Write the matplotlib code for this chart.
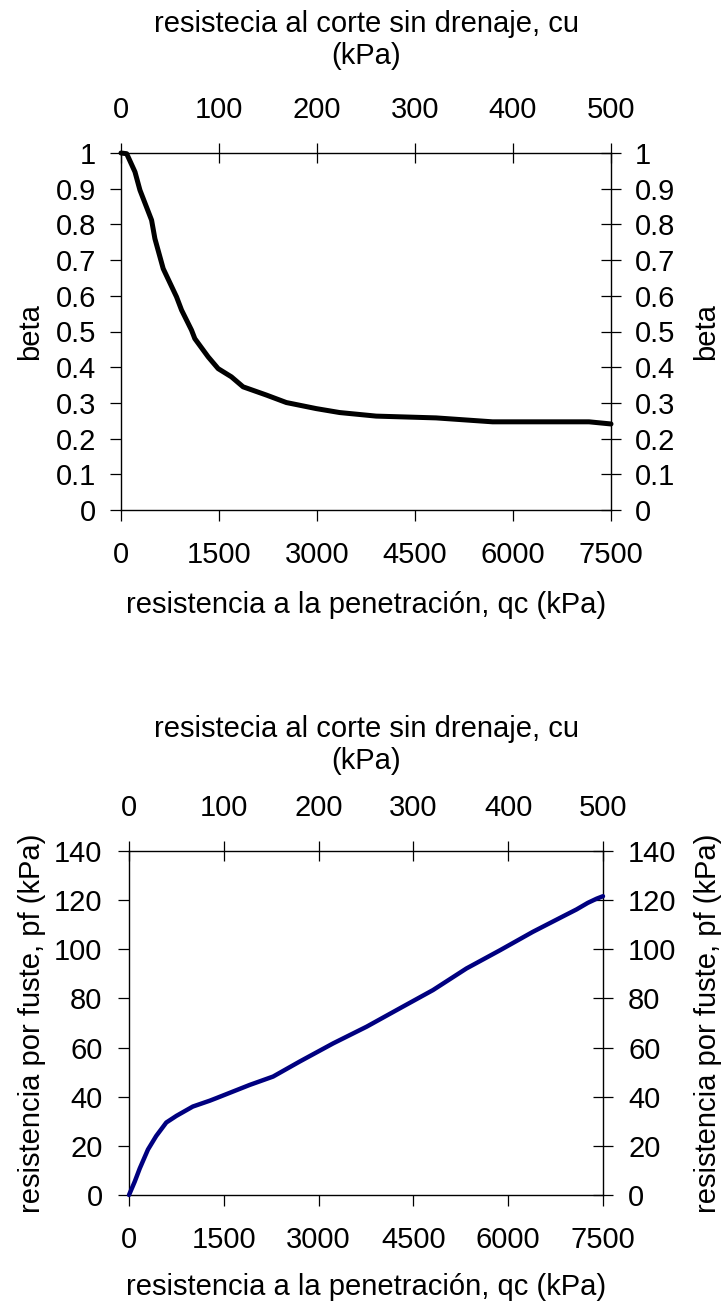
import matplotlib
matplotlib.use("Agg")
import matplotlib.pyplot as plt

plt.rcParams['font.family'] = ['Liberation Sans', 'DejaVu Sans']

# ---- data ----
qc_beta = [0, 87, 214, 290, 468, 519, 646, 850, 927, 1079, 1130, 1334, 1487, 1690,
           1869, 2225, 2531, 2989, 3346, 3905, 4822, 5687, 7164, 7500]
beta = [1.0, 0.998, 0.947, 0.896, 0.812, 0.760, 0.676, 0.597, 0.560, 0.504, 0.480,
        0.429, 0.396, 0.373, 0.345, 0.322, 0.301, 0.284, 0.273, 0.263, 0.258, 0.247,
        0.247, 0.241]

qc_pf = [0, 90, 170, 300, 430, 590, 750, 1010, 1280, 1380, 1910, 2280, 2700, 3230,
         3760, 4280, 4810, 5340, 5870, 6390, 6920, 7080, 7260, 7400, 7500]
pf = [0, 5.4, 10.8, 18.5, 24, 29.5, 32.2, 36, 38.4, 39.4, 44.8, 48.2, 54.3, 61.7,
      68.5, 75.9, 83.4, 92.2, 99.6, 107.1, 114.1, 116.2, 118.9, 120.6, 121.6]

qc_ticks = [0, 1500, 3000, 4500, 6000, 7500]
cu_ticks = [0, 100, 200, 300, 400, 500]
beta_ticks = [0, 0.1, 0.2, 0.3, 0.4, 0.5, 0.6, 0.7, 0.8, 0.9, 1]
beta_ticklabels = ['0', '0.1', '0.2', '0.3', '0.4', '0.5', '0.6', '0.7', '0.8', '0.9', '1']
pf_ticks = [0, 20, 40, 60, 80, 100, 120, 140]

xlabel_text = 'resistencia a la penetración, qc (kPa)'
toplabel_text = 'resistecia al corte sin drenaje, cu\n(kPa)'

W, H = 723, 1306
DPI = 100
fig = plt.figure(figsize=(W / DPI, H / DPI), dpi=DPI)
FS = 21


def add_axes_px(x0, x1, ytop, ybot):
    return fig.add_axes([x0 / W, 1 - ybot / H, (x1 - x0) / W, (ybot - ytop) / H])


def style_panel(ax, ylim, yticks, ytlabels, ylabel, line_x, line_y, color, lw,
                xt_pad, top_pad, ly_pad, ylab_x_left, ylab_x_right, xlab_y, toplab_y):
    ax.plot(line_x, line_y, color=color, lw=lw, solid_capstyle='round',
            solid_joinstyle='round', clip_on=False, zorder=3)
    ax.set_xlim(0, 7500)
    ax.set_ylim(*ylim)
    ax.set_xticks(qc_ticks)
    ax.set_xticklabels([str(t) for t in qc_ticks])
    ax.set_yticks(yticks)
    ax.set_yticklabels(ytlabels)
    for s in ax.spines.values():
        s.set_color('black')
        s.set_linewidth(1.0)
    ax.tick_params(axis='x', direction='out', length=8, width=0.9, pad=xt_pad,
                   labelsize=FS, colors='black')
    ax.tick_params(axis='y', direction='out', length=8, width=0.9, pad=ly_pad,
                   labelsize=FS, colors='black')
    ax.set_xlabel(xlabel_text, fontsize=FS)
    ax.xaxis.set_label_coords(0.5, xlab_y)
    ax.xaxis.label.set_va('center')
    ax.set_ylabel(ylabel, fontsize=FS)
    ax.yaxis.set_label_coords(ylab_x_left, 0.5)
    ax.yaxis.label.set_va('center')

    # top axis: undrained shear strength cu = qc / 15
    top = ax.secondary_xaxis('top', functions=(lambda q: q / 15.0, lambda c: c * 15.0))
    top.set_xticks(cu_ticks)
    top.set_xticklabels([str(t) for t in cu_ticks])
    top.tick_params(direction='inout', length=14, width=0.9, pad=top_pad,
                    labelsize=FS, colors='black')
    top.spines['top'].set_visible(False)
    ax.text(0.5, toplab_y, toplabel_text, transform=ax.transAxes, fontsize=FS,
            ha='center', va='center', multialignment='center', linespacing=1.2)

    # right axis: same quantity as left
    right = ax.secondary_yaxis('right')
    right.set_yticks(yticks)
    right.set_yticklabels(ytlabels)
    right.tick_params(direction='inout', length=14, width=0.9, pad=ly_pad,
                      labelsize=FS, colors='black')
    right.spines['right'].set_visible(False)
    ax.text(ylab_x_right, 0.5, ylabel, transform=ax.transAxes, fontsize=FS,
            rotation=90, ha='center', va='center', rotation_mode='anchor')
    return ax


ax1 = add_axes_px(121, 611, 153, 510)
style_panel(ax1, (0, 1), beta_ticks, beta_ticklabels, 'beta', qc_beta, beta,
            'black', 3.6, xt_pad=14, top_pad=14, ly_pad=10,
            ylab_x_left=-0.186, ylab_x_right=1.194, xlab_y=-0.266, toplab_y=1.317)

ax2 = add_axes_px(129, 603, 851, 1195)
style_panel(ax2, (0, 140), pf_ticks, [str(t) for t in pf_ticks],
            'resistencia por fuste, pf (kPa)', qc_pf, pf, '#000080', 3.2,
            xt_pad=14, top_pad=14, ly_pad=11,
            ylab_x_left=-0.205, ylab_x_right=1.222, xlab_y=-0.267, toplab_y=1.308)

fig.savefig('out.png', dpi=DPI, facecolor='white')
